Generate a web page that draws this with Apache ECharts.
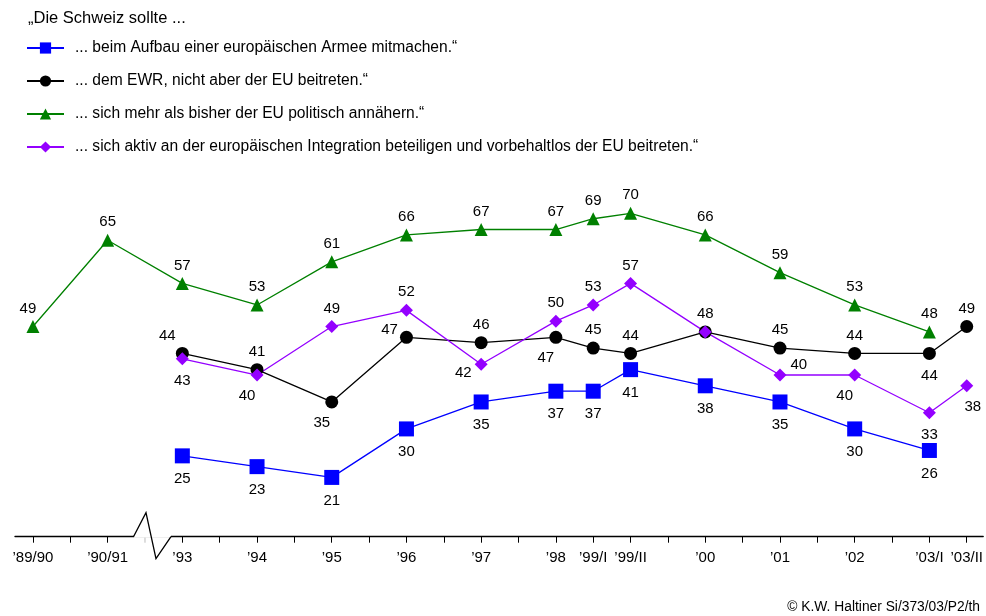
<!DOCTYPE html>
<html>
<head>
<meta charset="utf-8">
<script src="https://cdn.jsdelivr.net/npm/echarts@6/dist/echarts.min.js"></script>
<style>
  html, body { margin: 0; padding: 0; background: #fff; }
  #chart { width: 986px; height: 616px; }
</style>
</head>
<body>
<div id="chart"></div>
<script>
// survey waves: position on the time axis and label
const wavePos = [0, 1, 2, 3, 4, 5, 6, 7, 7.5, 8, 9, 10, 11, 12, 12.5]
const waveLabels = ['’89/90', '’90/91', '’93', '’94', '’95', '’96', '’97', '’98', '’99/I', '’99/II', '’00', '’01', '’02', '’03/I', '’03/II']

const armee = [null, null, 25, 23, 21, 30, 35, 37, 37, 41, 38, 35, 30, 26, null]
const ewr = [null, null, 44, 41, 35, 47, 46, 47, 45, 44, 48, 45, 44, 44, 49]
const annaehern = [49, 65, 57, 53, 61, 66, 67, 67, 69, 70, 66, 59, 53, 48, null]
const beitritt = [null, null, 43, 40, 49, 52, 42, 50, 53, 57, 48, 40, 40, 33, 38]

const seriesNames = [
	'... beim Aufbau einer europäischen Armee mitmachen.“',
	'... dem EWR, nicht aber der EU beitreten.“',
	'... sich mehr als bisher der EU politisch annähern.“',
	'... sich aktiv an der europäischen Integration beteiligen und vorbehaltlos der EU beitreten.“'
]

// where each value label sits relative to its point
const armeeLbl = [null, null, 'b', 'b', 'b', 'b', 'b', 'b', 'b', 'b', 'b', 'b', 'b', 'b', null]
const ewrLbl = [null, null, 'tl', 't', 'bl', 'lu', 't', 'bl', 't', 't', 't', 't', 't', 'b', 't']
const annaehernLbl = ['tl2', 't', 't', 't', 't', 't', 't', 't', 't', 't', 't', 't', 't', 't', null]
const beitrittLbl = [null, null, 'b', 'bl', 't', 't', 'ld', 't', 't', 't', 'none', 'r', 'bl', 'b', 'br']

const lblStyles = {
	t: { position: 'top', distance: 4 },
	b: { position: 'bottom', distance: 8 },
	tl: { position: 'top', distance: 4, offset: [-15, 0] },
	tl2: { position: 'top', distance: 4, offset: [-5, 0] },
	bl: { position: 'bottom', distance: 7, offset: [-10, 0] },
	br: { position: 'bottom', distance: 7, offset: [6, 0] },
	lu: { position: 'left', distance: 4, offset: [2, -7] },
	ld: { position: 'left', distance: 4, offset: [1, 9] },
	r: { position: 'right', distance: 4, offset: [0, -10] }
}

function buildData(values, lbls) {
	let out = []
	values.forEach((v, i) => {
		if (v == null) return
		let item = { value: [wavePos[i], v] }
		if (lbls[i] === 'none') item.label = { show: false }
		else item.label = Object.assign({ show: true }, lblStyles[lbls[i]])
		out.push(item)
	})
	return out
}

function makeSeries(name, values, lbls, color, symbol, size) {
	return {
		name: name,
		type: 'line',
		data: buildData(values, lbls),
		symbol: symbol,
		symbolSize: size,
		lineStyle: { color: color, width: 1.3 },
		itemStyle: { color: color },
		label: { color: '#000', fontSize: 15, fontFamily: 'Liberation Sans' },
		emphasis: { disabled: true },
		z: 2
	}
}

let myChart = echarts.init(document.getElementById('chart'), null, { renderer: 'canvas' })

let option = {
	animation: false,
	backgroundColor: '#fff',
	title: {
		text: '„Die Schweiz sollte ...',
		left: 23,
		top: 5,
		textStyle: { fontSize: 16.5, fontWeight: 'normal', color: '#000', fontFamily: 'Liberation Sans' }
	},
	legend: {
		orient: 'vertical',
		left: 21,
		top: 35,
		itemWidth: 37,
		itemHeight: 14,
		itemGap: 17,
		selectedMode: false,
		textStyle: { fontSize: 15.6, color: '#000', fontFamily: 'Liberation Sans', padding: [0, 0, 0, 6] },
		data: seriesNames
	},
	grid: { left: 15, right: 0, top: 186.4, bottom: 79.3, containLabel: false },
	xAxis: {
		type: 'value',
		min: -0.24,
		max: 12.72,
		splitLine: { show: false },
		axisLine: { lineStyle: { color: '#000', width: 1.4 } },
		axisTick: {
			show: true,
			length: 6,
			lineStyle: { color: '#000', width: 1 },
			customValues: wavePos.concat([0.5, 2.5, 3.5, 4.5, 5.5, 6.5, 8.5, 9.5, 10.5, 11.5])
		},
		axisLabel: {
			customValues: wavePos,
			margin: 14,
			fontSize: 15,
			color: '#000',
			fontFamily: 'Liberation Sans',
			formatter: function (v) {
				let i = wavePos.indexOf(v)
				return i >= 0 ? waveLabels[i] : ''
			}
		}
	},
	yAxis: {
		type: 'value',
		min: 10,
		max: 75,
		show: false
	},
	series: [
		makeSeries(seriesNames[0], armee, armeeLbl, '#0000ff', 'rect', 15),
		makeSeries(seriesNames[1], ewr, ewrLbl, '#000000', 'circle', 13),
		makeSeries(seriesNames[2], annaehern, annaehernLbl, '#008000', 'triangle', 13),
		makeSeries(seriesNames[3], beitritt, beitrittLbl, '#9400ff', 'diamond', 13)
	]
}

myChart.setOption(option)

// axis break zigzag between '90/91 and '93
let mid = myChart.convertToPixel({ gridIndex: 0 }, [1.5, 10])
let bx = mid[0], by = mid[1]
myChart.setOption({
	graphic: [
		{
			type: 'rect',
			shape: { x: bx - 11, y: by - 2, width: 37, height: 3 },
			style: { fill: '#fff' },
			z: 100
		},
		{
			type: 'line',
			shape: { x1: bx, y1: by + 1, x2: bx, y2: by + 6 },
			style: { stroke: '#bbb', lineWidth: 1 },
			z: 100
		},
		{
			type: 'polyline',
			shape: { points: [[bx - 11.5, by], [bx + 1, by - 24], [bx + 11, by + 22], [bx + 26, by]] },
			style: { stroke: '#000', lineWidth: 1.3, fill: null },
			z: 101
		},
		{
			type: 'text',
			right: 6,
			bottom: 2,
			style: { text: '© K.W. Haltiner Si/373/03/P2/th', fontSize: 13.8, fill: '#000', fontFamily: 'Liberation Sans' },
			z: 100
		}
	]
})
</script>
</body>
</html>
